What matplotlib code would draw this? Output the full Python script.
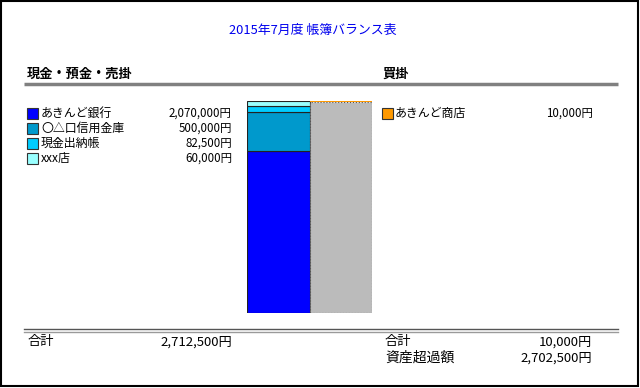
import matplotlib.pyplot as plt
from matplotlib.patches import Rectangle

plt.rcParams['font.family'] = ['Noto Sans CJK JP', 'DejaVu Sans']

# data
title = "2015年7月度 帳簿バランス表"
asset_header = "現金・預金・売掛"
liab_header = "買掛"
asset_names = ["あきんど銀行", "〇△口信用金庫", "現金出納帳", "xxx店"]
asset_values = [2070000, 500000, 82500, 60000]
asset_colors = ["#0000FF", "#0099CC", "#00CCFF", "#99FFFF"]
liab_names = ["あきんど商店"]
liab_values = [10000]
liab_colors = ["#FF9900"]
surplus_label = "資産超過額"
surplus_color = "#BBBBBB"

asset_total = sum(asset_values)
liab_total = sum(liab_values)
surplus = asset_total - liab_total


def yen(v):
    return f"{v:,}円"


W, H = 640, 388
fig = plt.figure(figsize=(W / 100, H / 100), dpi=100)

# background axes in pixel coordinates for text and rules
bg = fig.add_axes([0, 0, 1, 1])
bg.set_xlim(0, W)
bg.set_ylim(H, 0)
bg.axis('off')

bg.add_patch(Rectangle((1, 1), W - 3, H - 3, fill=False, edgecolor='black', linewidth=1.5))

bg.text(313, 30, title, color='#0000EE', fontsize=9.3, ha='center', va='center')

bg.text(27, 74, asset_header, fontsize=9.5, fontweight='bold', ha='left', va='center')
bg.text(383, 74, liab_header, fontsize=9.5, fontweight='bold', ha='left', va='center')
bg.plot([24, 618], [83.5, 83.5], color='#808080', linewidth=2.5, solid_capstyle='butt')

# left legend
for i, (name, val, col) in enumerate(zip(asset_names, asset_values, asset_colors)):
    y = 113.5 + i * 15
    bg.add_patch(Rectangle((27, y - 5.5), 11, 11, facecolor=col, edgecolor='#333333', linewidth=0.8))
    bg.text(41, y, name, fontsize=8.6, ha='left', va='center')
    bg.text(232, y, yen(val), fontsize=8.3, ha='right', va='center')

# right legend
for i, (name, val, col) in enumerate(zip(liab_names, liab_values, liab_colors)):
    y = 113.5 + i * 15
    bg.add_patch(Rectangle((382, y - 5.5), 11, 11, facecolor=col, edgecolor='#333333', linewidth=0.8))
    bg.text(395, y, name, fontsize=8.6, ha='left', va='center')
    bg.text(593, y, yen(val), fontsize=8.3, ha='right', va='center')

# bottom double rule
bg.plot([24, 618], [329.2, 329.2], color='#555555', linewidth=1.0)
bg.plot([24, 618], [331.6, 331.6], color='#9a9a9a', linewidth=1.0)

# totals
bg.text(28, 342, "合計", fontsize=9.5, ha='left', va='center')
bg.text(232, 342, yen(asset_total), fontsize=9.5, ha='right', va='center')
bg.text(385, 342, "合計", fontsize=9.5, ha='left', va='center')
bg.text(592, 342, yen(liab_total), fontsize=9.5, ha='right', va='center')
bg.text(385, 358, surplus_label, fontsize=10, ha='left', va='center')
bg.text(592, 358, yen(surplus), fontsize=9.5, ha='right', va='center')

# stacked bars
ax = fig.add_axes([247 / W, (H - 313) / H, 125 / W, 212 / H])
ax.set_xlim(-0.5, 1.5)
ax.set_ylim(0, asset_total)
ax.axis('off')

bottom = 0
for val, col in zip(asset_values, asset_colors):
    ax.bar(0, val, width=1.0, bottom=bottom, color=col, edgecolor='#222222', linewidth=0.8)
    bottom += val

ax.bar(1, surplus, width=1.0, bottom=0, color=surplus_color, edgecolor='#555555',
       linewidth=0.8, linestyle=':')
bottom = surplus
for val, col in zip(liab_values, liab_colors):
    ax.bar(1, val, width=1.0, bottom=bottom, color=col, edgecolor='none')
    bottom += val

fig.savefig("out.png", dpi=100)
